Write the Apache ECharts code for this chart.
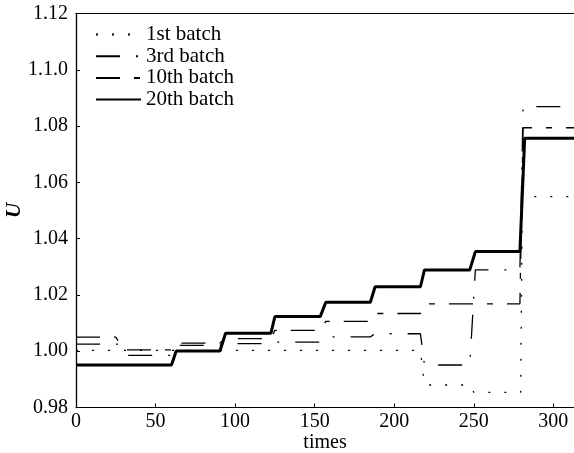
<!DOCTYPE html>
<html>
<head>
<meta charset="utf-8">
<script src="https://cdn.jsdelivr.net/npm/echarts@6/dist/echarts.min.js"></script>
<style>
  html, body { margin: 0; padding: 0; background: #fff; }
  #chart { width: 574px; height: 453px; }
</style>
</head>
<body>
<div id="chart"></div>
<script>
// 各批次阶梯曲线（横轴 times，纵轴 U）
const batchNames = ['1st batch', '3rd batch', '10th batch', '20th batch'];

const times1st = [0, 216.5, 219, 248, 250, 279.5, 280.5, 313];
const u1st = [1.0003, 1.0003, 0.988, 0.988, 0.9854, 0.9854, 1.0549, 1.0549];

const times3rd = [0, 26, 31, 60, 63, 90.5, 94, 122.5, 125, 153.5, 156, 185, 188, 216.5, 219, 247.5, 251, 279, 281, 313];
const u3rd = [1.0025, 1.0025, 0.9985, 0.9985, 1.0021, 1.0021, 1.0027, 1.0027, 1.0032, 1.0032, 1.0051, 1.0051, 1.0062, 1.0062, 0.9951, 0.9951, 1.0289, 1.0289, 1.0869, 1.0869];

const times10th = [0, 25, 30, 60, 63, 90.5, 94, 122.5, 125, 153.5, 157, 185, 188, 216.5, 219, 279, 281, 313];
const u10th = [1.005, 1.005, 1.0005, 1.0005, 1.0029, 1.0029, 1.0045, 1.0045, 1.0074, 1.0074, 1.0106, 1.0106, 1.0134, 1.0134, 1.0168, 1.0168, 1.0794, 1.0794];

const times20th = [0, 60, 63, 90.5, 94, 122.5, 125, 153.5, 157, 185, 188, 216.5, 219, 247.5, 251, 279, 282, 313];
const u20th = [0.9951, 0.9951, 1.0001, 1.0001, 1.0064, 1.0064, 1.0123, 1.0123, 1.0174, 1.0174, 1.0229, 1.0229, 1.0289, 1.0289, 1.0354, 1.0354, 1.0757, 1.0757];

// 刻度标签（原图中 1.10 印成了 "1.1.0"）
const xTickLabels = ['0', '50', '100', '150', '200', '250', '300'];
const yTickLabels = ['0.98', '1.00', '1.02', '1.04', '1.06', '1.08', '1.1.0', '1.12'];

const serif = '"Liberation Serif", "DejaVu Serif", serif';

let toPairs = (xs, ys) => xs.map((x, i) => [x, ys[i]]);

let chart = echarts.init(document.getElementById('chart'));

let lineSeries = (name, xs, ys, width, dash) => ({
    name: name,
    type: 'line',
    data: toPairs(xs, ys),
    symbol: 'none',
    animation: false,
    itemStyle: { color: '#000' },
    lineStyle: { color: '#000', width: width, type: dash }
});

let options = {
    backgroundColor: '#fff',
    textStyle: { fontFamily: serif, color: '#000' },
    grid: { left: 76, right: 0, top: 13.5, bottom: 45.5, outerBoundsMode: 'none' },
    legend: {
        orient: 'vertical',
        left: 95,
        top: 24,
        padding: 0,
        itemWidth: 45,
        itemHeight: 1,
        itemGap: 0.7,
        itemStyle: { opacity: 0 },
        data: batchNames,
        textStyle: { fontFamily: serif, fontSize: 21, color: '#000', lineHeight: 21 }
    },
    xAxis: [
        {
            type: 'value',
            min: 0,
            max: 313,
            interval: 50,
            name: 'times',
            nameLocation: 'middle',
            nameGap: 25,
            nameMoveOverlap: false,
            nameTextStyle: { fontFamily: serif, fontSize: 20, color: '#000' },
            splitLine: { show: false },
            axisLine: { lineStyle: { color: '#000', width: 1 } },
            axisTick: { inside: true, length: 4, lineStyle: { color: '#000' } },
            axisLabel: {
                margin: 4,
                showMaxLabel: false,
                fontFamily: serif, fontSize: 20, color: '#000',
                formatter: v => (v % 50 === 0 ? xTickLabels[v / 50] : '')
            }
        },
        {
            // 顶部边框
            type: 'value',
            position: 'top',
            min: 0,
            max: 313,
            splitLine: { show: false },
            axisLine: { lineStyle: { color: '#000', width: 1 } },
            axisTick: { show: false },
            axisLabel: { show: false }
        }
    ],
    yAxis: {
        type: 'value',
        min: 0.98,
        max: 1.12,
        interval: 0.02,
        name: 'U',
        nameLocation: 'middle',
        nameGap: 51,
        nameMoveOverlap: false,
        nameTextStyle: { fontFamily: serif, fontSize: 21, fontStyle: 'italic', fontWeight: 'bold', color: '#000' },
        splitLine: { show: false },
        axisLine: { show: true, lineStyle: { color: '#000', width: 1.3 } },
        axisTick: { show: true, inside: true, length: 4, lineStyle: { color: '#000' } },
        axisLabel: {
            margin: 8,
            fontFamily: serif, fontSize: 20, color: '#000',
            formatter: v => yTickLabels[Math.round((v - 0.98) / 0.02)]
        }
    },
    series: [
        lineSeries(batchNames[0], times1st, u1st, 1.3, [2, 14]),
        lineSeries(batchNames[1], times3rd, u3rd, 1.3, [24, 16, 2, 16]),
        lineSeries(batchNames[2], times10th, u10th, 1.3, [24, 14, 6, 14]),
        lineSeries(batchNames[3], times20th, u20th, 3, 'solid')
    ]
};

chart.setOption(options);
</script>
</body>
</html>
